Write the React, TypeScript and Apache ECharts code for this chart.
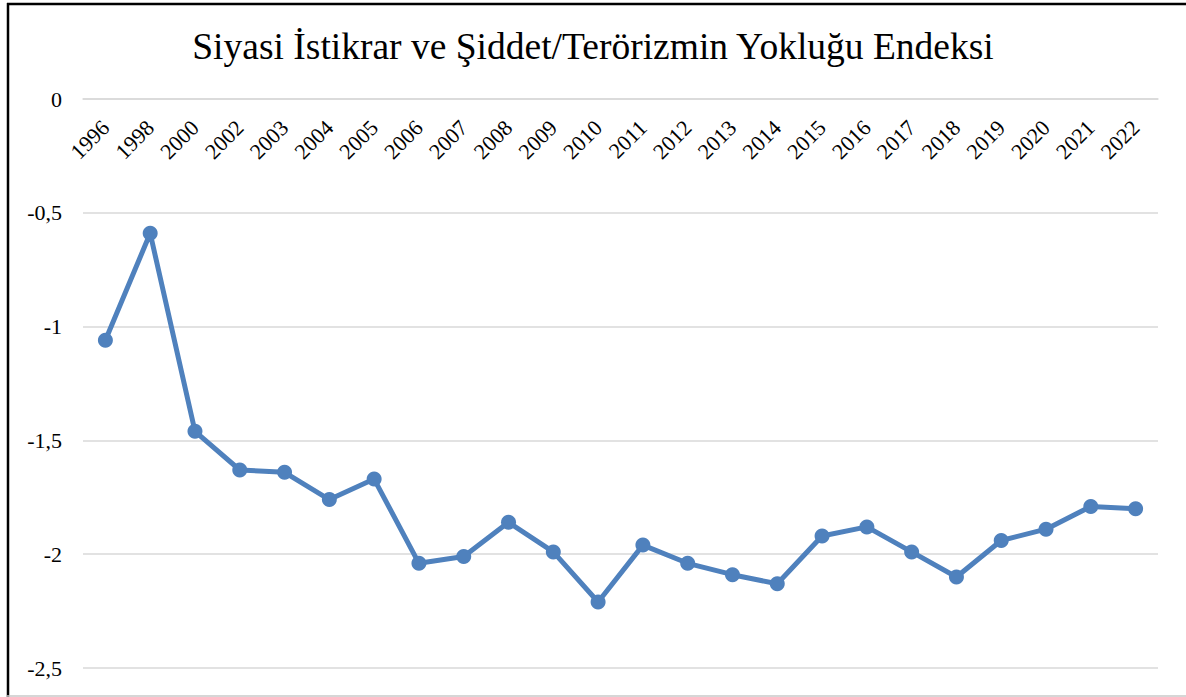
import React, { useEffect, useRef } from "react";
import * as echarts from "echarts";

const years = ["1996","1998","2000","2002","2003","2004","2005","2006","2007","2008","2009","2010","2011","2012","2013","2014","2015","2016","2017","2018","2019","2020","2021","2022"];
const values = [-1.06,-0.59,-1.46,-1.63,-1.64,-1.76,-1.67,-2.04,-2.01,-1.86,-1.99,-2.21,-1.96,-2.04,-2.09,-2.13,-1.92,-1.88,-1.99,-2.10,-1.94,-1.89,-1.79,-1.80];
const titleText = "Siyasi İstikrar ve Şiddet/Terörizmin Yokluğu Endeksi";

const FONT = "Liberation Serif";

export default function App() {
  const ref = useRef<HTMLDivElement>(null);
  useEffect(() => {
    if (!ref.current) return;
    const chart = echarts.init(ref.current, null, { renderer: "svg" });
    chart.setOption({
      animation: false,
      backgroundColor: "#ffffff",
      textStyle: { fontFamily: FONT },
      title: {
        text: titleText,
        left: "center",
        top: 22,
        textStyle: { fontFamily: FONT, fontSize: 37.5, fontWeight: "normal", color: "#000" },
      },
      grid: { left: 83, right: 28, top: 99, bottom: 29, outerBoundsMode: "none", containLabel: false },
      xAxis: {
        type: "category",
        data: years,
        position: "top",
        axisLine: { onZero: false, lineStyle: { color: "#d9d9d9", width: 1.5 } },
        axisTick: { show: false },
        axisLabel: {
          inside: true,
          rotate: -45,
          interval: 0,
          margin: 25,
          fontFamily: FONT,
          fontSize: 22,
          color: "#000",
        },
      },
      yAxis: {
        type: "value",
        min: -2.5,
        max: 0,
        interval: 0.5,
        axisLine: { show: false },
        axisTick: { show: false },
        splitLine: { lineStyle: { color: "#d9d9d9", width: 1.5 } },
        axisLabel: {
          margin: 21,
          fontFamily: FONT,
          fontSize: 22,
          color: "#000",
          formatter: (v: number) => String(v).replace(".", ","),
        },
      },
      series: [
        {
          type: "line",
          data: values,
          symbol: "circle",
          symbolSize: 15,
          lineStyle: { color: "#4f81bd", width: 5 },
          itemStyle: { color: "#4f81bd" },
        },
      ],
      graphic: [
        { type: "line", shape: { x1: 7, y1: 4, x2: 1186, y2: 4 }, style: { stroke: "#000", lineWidth: 2.5 } },
        { type: "line", shape: { x1: 8, y1: 3, x2: 8, y2: 697 }, style: { stroke: "#000", lineWidth: 2.5 } },
        { type: "line", shape: { x1: 7, y1: 696, x2: 1186, y2: 696 }, style: { stroke: "#c8c8c8", lineWidth: 1.5 } },
      ],
    });
    return () => chart.dispose();
  }, []);
  return (
    <div
      ref={ref}
      style={{ position: "fixed", left: 0, top: 0, width: 1186, height: 697 }}
    />
  );
}
